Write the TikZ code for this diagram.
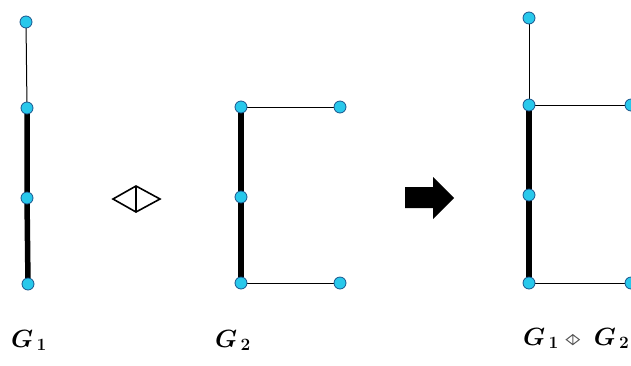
\documentclass[tikz,border=0pt]{standalone}
\usepackage{amsmath}
\usepackage{amssymb}
\usetikzlibrary{arrows.meta}

\definecolor{vfill}{RGB}{40,200,235}
\definecolor{vline}{RGB}{25,85,140}
\newcommand{\diamop}{\tikz[baseline=-0.5ex,line width=1pt,draw=black!65]
  \draw (0pt,0pt) -- (6.5pt,5pt) -- (13pt,0pt) -- (6.5pt,-5pt) -- cycle (6.5pt,5pt) -- (6.5pt,-5pt);}

\begin{document}
\begin{tikzpicture}[x=1pt,y=-1pt,
  vtx/.style={circle,draw=vline,fill=vfill,line width=0.8pt,inner sep=0pt,minimum size=12pt},
  thin/.style={black,line width=1pt},
  thick/.style={black,line width=5.5pt},
  lbl/.style={font=\fontsize{25}{30}\selectfont\boldmath,inner sep=0pt,anchor=base west}]
  \useasboundingbox (0,0) rectangle (631,365);
  % G1
  \coordinate (g1a) at (26,22);
  \coordinate (g1b) at (27,108);
  \coordinate (g1c) at (27,198);
  \coordinate (g1d) at (28,284);
  \draw[thin] (g1a) -- (g1b);
  \draw[thick] (g1b) -- (g1c) -- (g1d);
  \foreach \n in {g1a,g1b,g1c,g1d} \node[vtx] at (\n) {};
  % G2
  \coordinate (g2a) at (241,107);
  \coordinate (g2b) at (241,197);
  \coordinate (g2c) at (241,283);
  \coordinate (g2d) at (340,107);
  \coordinate (g2e) at (340,283);
  \draw[thin] (g2a) -- (g2d);
  \draw[thin] (g2c) -- (g2e);
  \draw[thick] (g2a) -- (g2b) -- (g2c);
  \foreach \n in {g2a,g2b,g2c,g2d,g2e} \node[vtx] at (\n) {};
  % G1 with G2
  \coordinate (g3a) at (529,18);
  \coordinate (g3b) at (529,105);
  \coordinate (g3c) at (529,195);
  \coordinate (g3d) at (529,283);
  \coordinate (g3e) at (631,105);
  \coordinate (g3f) at (631,283);
  \draw[thin] (g3a) -- (g3b) -- (g3e);
  \draw[thin] (g3d) -- (g3f);
  \draw[thick] (g3b) -- (g3c) -- (g3d);
  \foreach \n in {g3a,g3b,g3c,g3d,g3e,g3f} \node[vtx] at (\n) {};
  % operator and arrow
  \draw[line width=1.6pt] (113,199) -- (136,186) -- (160,199) -- (136,212) -- cycle
    (136,186) -- (136,212);
  \fill (405,187) -- (433,187) -- (433,177) -- (454,198) -- (433,219) -- (433,208) -- (405,208) -- cycle;
  % labels
  \node[lbl] (l1) at (11,347) {$G_{\,1}$};
  \node[lbl] (l2) at (215,347) {$G_{\,2}$};
  \node[lbl] (l3) at (523,345) {$G_{\,1}$\hspace{7pt}\diamop\hspace{14pt}$G_{\,2}$};
\end{tikzpicture}
\end{document}
